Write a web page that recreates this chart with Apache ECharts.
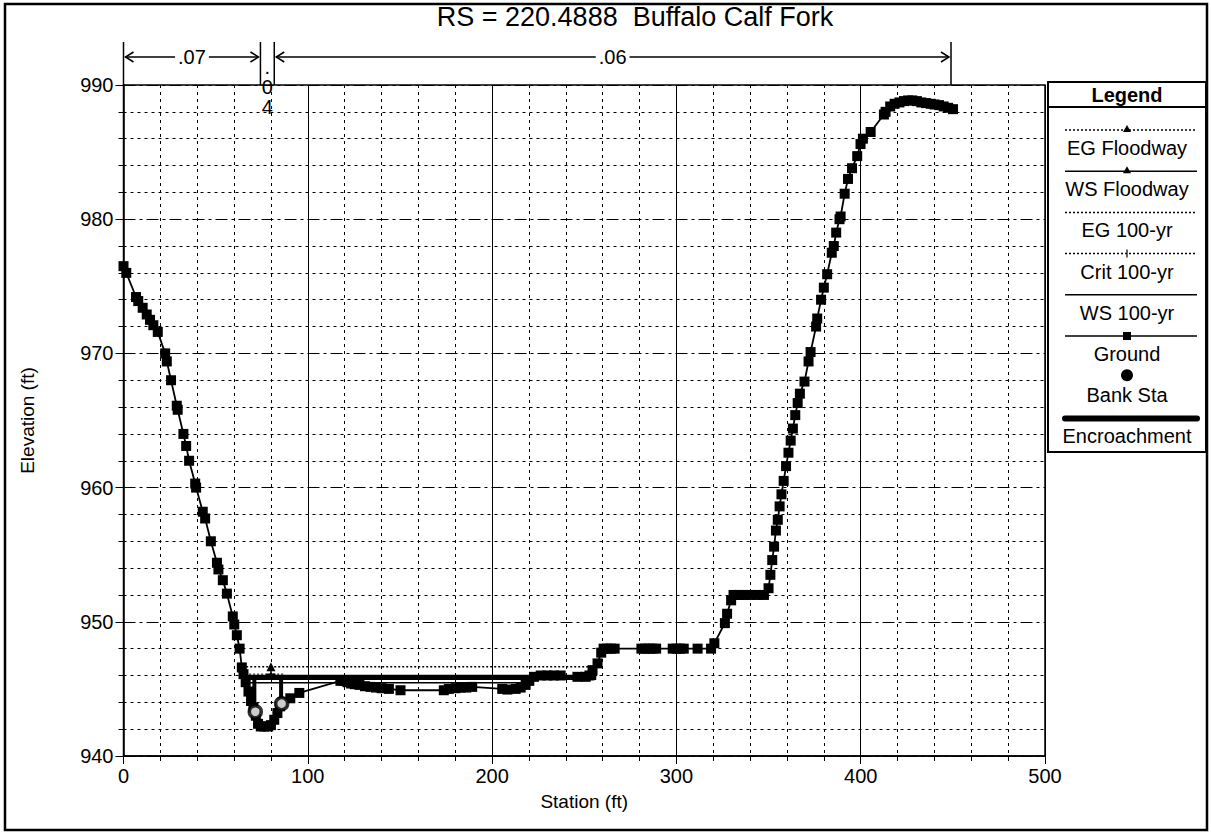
<!DOCTYPE html>
<html><head><meta charset="utf-8">
<script src="https://cdn.jsdelivr.net/npm/echarts@6/dist/echarts.min.js"></script>
<style>html,body{margin:0;padding:0;background:#fff}#c{width:1211px;height:833px}</style>
</head><body><div id="c"></div>
<script>
// ---------------- data ----------------
const chartTitle = 'RS = 220.4888  Buffalo Calf Fork';
const xAxisName = 'Station (ft)';
const yAxisName = 'Elevation (ft)';
const xTicks = [0, 100, 200, 300, 400, 500];
const yTicks = [940, 950, 960, 970, 980, 990];

const groundSta = [0,1.5,6.8,8.0,10.4,12.6,14.4,16.2,18.6,22.6,23.5,25.8,28.9,29.4,32.5,34.0,35.6,38.9,39.4,43.0,44.3,47.4,50.7,51.5,53.9,56.1,59.3,60.1,61.5,63.0,64.2,65.1,66.3,67.8,69.2,70.5,71.8,73.0,74.5,76.5,78.5,80.0,81.8,83.5,85.0,86.2,90.5,95.4,117.7,119.5,121.5,123.5,125.5,128,131,134,137,140,144,150.3,173.8,176.5,180.2,183,186,189.2,205.5,208.3,212.8,215.5,218.2,220.2,222.7,226.4,230,233.5,237.2,246.3,250.8,252.8,254.5,257.2,259.2,260.5,262.5,264.5,266.5,281,283,285,287,289,298,300,302,304,311.5,318.8,320.6,326.3,327.5,329.7,331,333.5,336.5,340,344,347.5,350.0,351.0,352.0,353.0,354.0,355.0,356.0,357.0,358.2,359.5,360.8,362.0,363.2,364.5,365.8,367.0,369.5,371.7,372.8,375.8,376.4,378.5,380.0,381.8,384.3,385.4,386.7,388.5,389.1,391.3,393.1,395.3,398.1,399.9,401.2,405.4,412.6,413.5,416,418.4,421,423.5,425.7,428,430.5,432.9,435.5,438,440.1,442.5,445,447.4,450.1];
const groundElev = [976.5,976.0,974.2,973.9,973.4,972.9,972.5,972.1,971.6,970.0,969.4,968.0,966.1,965.8,964.0,963.1,962.0,960.3,960.0,958.2,957.7,956.0,954.4,953.9,953.1,952.1,950.4,949.8,949.0,948.0,946.6,946.1,945.5,944.8,944.1,943.6,943.0,942.4,942.2,942.2,942.2,942.3,942.7,943.2,943.7,944.0,944.3,944.7,945.6,945.6,945.5,945.4,945.35,945.3,945.2,945.15,945.1,945.05,945.0,944.9,944.9,945.0,945.05,945.1,945.1,945.15,945.0,944.95,945.0,945.1,945.3,945.6,945.9,946.0,946.0,946.0,946.0,945.9,945.9,946.0,946.4,946.9,947.7,948.0,948.0,948.0,948.0,948,948,948,948,948,948,948,948,948,948,948,948.4,949.9,950.6,951.6,952,952,952,952,952,952,952.5,953.5,954.6,955.6,956.8,957.6,958.6,959.5,960.5,961.6,962.6,963.5,964.4,965.4,966.3,967.0,967.9,969.4,970.1,972.0,972.6,974.0,974.9,975.9,977.5,978.0,979.0,980.0,980.2,981.9,983.0,983.8,984.7,985.6,986.0,986.5,987.8,988.0,988.4,988.6,988.7,988.8,988.85,988.85,988.8,988.7,988.65,988.6,988.55,988.5,988.4,988.3,988.2];

const bankSta = [71.5, 85.8];
const bankElev = [943.3, 943.9];

const egFloodwaySta = [64.4, 80, 257.9];
const egFloodwayElev = [946.65, 946.65, 946.65];
const wsFloodwaySta = [65.0, 80, 257.0];
const wsFloodwayElev = [946.0, 946.0, 946.0];
const eg100Sta = [65.6, 216.5];
const eg100Elev = [945.75, 945.75];
const crit100Sta = [66.0, 80, 87.0];
const crit100Elev = [946.1, 946.1, 946.1];
const ws100Sta = [65.9, 215.8];
const ws100Elev = [945.45, 945.45];
const encrBandSta = [67.0, 256.5];
const encrBandElev = [945.85, 945.85];
const encrLeftSta = [71.0, 71.0];
const encrLeftElev = [943.2, 945.85];
const encrRightSta = [85.5, 85.5];
const encrRightElev = [943.8, 945.85];

// Manning's n regions
const nBreakSta = [0, 74.3, 81.8, 449];
const nValues = ['.07', '.04', '.06'];

const legendNames = ['EG Floodway','WS Floodway','EG 100-yr','Crit 100-yr','WS 100-yr','Ground','Bank Sta','Encroachment'];
// --------------------------------------

const FONT = "'Liberation Sans', Arial, sans-serif";
const zip = (a, b) => a.map((v, i) => [v, b[i]]);
const withMid = (sta, elev, sym, size) => sta.map((s, i) => (i === 1 ? {value: [s, elev[i]], symbol: sym, symbolSize: size} : {value: [s, elev[i]], symbol: 'none'}));
const plusPath = 'path://M0,5L10,5M5,0L5,10';

const chart = echarts.init(document.getElementById('c'), null, {renderer: 'svg'});

const axisCommon = {
  axisLine: {show: true, lineStyle: {color: '#000', width: 1.5}},
  axisLabel: {color: '#000', fontSize: 20, fontFamily: FONT, margin: 10},
  nameTextStyle: {color: '#000', fontSize: 19, fontFamily: FONT},
  nameLocation: 'middle',
  minorTick: {show: true, splitNumber: 5, length: 5, lineStyle: {color: '#000'}},
  axisTick: {show: true, length: 8, lineStyle: {color: '#000'}},
  minorSplitLine: {show: true, lineStyle: {color: '#000', width: 1, type: [3, 4]}}
};

const option = {
  animation: false,
  backgroundColor: '#fff',
  grid: {left: 123.5, right: 166, top: 85, bottom: 77, show: true, borderColor: '#000', borderWidth: 1.5, containLabel: false},
  xAxis: Object.assign({}, axisCommon, {
    type: 'value', min: xTicks[0], max: xTicks[xTicks.length - 1], interval: 100,
    name: xAxisName, nameGap: 36,
    splitLine: {show: true, lineStyle: {color: '#000', width: 1, type: 'solid'}}
  }),
  yAxis: Object.assign({}, axisCommon, {
    type: 'value', min: yTicks[0], max: yTicks[yTicks.length - 1], interval: 10,
    name: yAxisName, nameGap: 87,
    splitLine: {show: true, lineStyle: {color: '#000', width: 1, type: [12, 4, 3, 4]}}
  }),
  series: [
    {name: 'EG Floodway', type: 'line', data: withMid(egFloodwaySta, egFloodwayElev, 'triangle', 9), symbol: 'none', showSymbol: true,
      lineStyle: {color: '#000', width: 1.5, type: [2, 2]}, itemStyle: {color: '#000'}, z: 3},
    {name: 'WS Floodway', type: 'line', data: withMid(wsFloodwaySta, wsFloodwayElev, 'triangle', 8), symbol: 'none', showSymbol: true,
      lineStyle: {color: '#000', width: 1.5}, itemStyle: {color: '#000'}, z: 3},
    {name: 'EG 100-yr', type: 'line', data: zip(eg100Sta, eg100Elev), symbol: 'none',
      lineStyle: {color: '#000', width: 1.5, type: [2, 2]}, z: 3},
    {name: 'Crit 100-yr', type: 'line', data: withMid(crit100Sta, crit100Elev, plusPath, 9), symbol: 'none', showSymbol: true,
      lineStyle: {color: '#000', width: 1, type: [2, 2]}, itemStyle: {color: '#000', borderColor: '#000', borderWidth: 1.5}, z: 3},
    {name: 'WS 100-yr', type: 'line', data: zip(ws100Sta, ws100Elev), symbol: 'none',
      lineStyle: {color: '#000', width: 1.5}, z: 3},
    {name: 'Encroachment', type: 'line', data: zip(encrBandSta, encrBandElev), symbol: 'none',
      lineStyle: {color: '#000', width: 5}, z: 4},
    {name: 'Encroachment', type: 'line', data: zip(encrLeftSta, encrLeftElev), symbol: 'none',
      lineStyle: {color: '#000', width: 4}, z: 4},
    {name: 'Encroachment', type: 'line', data: zip(encrRightSta, encrRightElev), symbol: 'none',
      lineStyle: {color: '#000', width: 4}, z: 4},
    {name: 'Ground', type: 'line', data: zip(groundSta, groundElev), symbol: 'rect', symbolSize: 10, showAllSymbol: true,
      lineStyle: {color: '#000', width: 1.8}, itemStyle: {color: '#000'}, z: 5},
    {name: 'Bank Sta', type: 'scatter', data: zip(bankSta, bankElev), symbol: 'circle', symbolSize: 12,
      itemStyle: {color: '#fff', borderColor: '#000', borderWidth: 3.5}, z: 6}
  ]
};
chart.setOption(option);

// --------- graphics: frame, title, n-values, legend ---------
const g = [];
const stroke = {stroke: '#000', lineWidth: 1.5};
g.push({type: 'rect', shape: {x: 5, y: 4, width: 1202, height: 826}, style: {fill: 'none', stroke: '#000', lineWidth: 2.5}, silent: true});
g.push({type: 'text', x: 635, y: 17, style: {text: chartTitle, font: '27px ' + FONT, fill: '#000', textAlign: 'center', textVerticalAlign: 'middle'}});

const ctx = document.createElement('canvas').getContext('2d');
ctx.font = '20px ' + FONT;
const topY = chart.convertToPixel({gridIndex: 0}, [0, 990])[1];
const arrowY = 57;
const nx = nBreakSta.map(s => chart.convertToPixel({gridIndex: 0}, [s, 990])[0]);
nx.forEach(x => g.push({type: 'line', shape: {x1: x, y1: 42, x2: x, y2: topY}, style: stroke}));
nValues.forEach((v, i) => {
  const x1 = nx[i], x2 = nx[i + 1];
  const cx = (x1 + x2) / 2;
  const w = ctx.measureText(v).width;
  if (x2 - x1 < w + 30) {
    g.push({type: 'text', x: cx, y: 57, style: {text: v.split('').join('\n'), font: '20px ' + FONT, lineHeight: 20, fill: '#000', textAlign: 'center', textVerticalAlign: 'top'}});
    return;
  }
  g.push({type: 'text', x: cx, y: arrowY, style: {text: v, font: '20px ' + FONT, fill: '#000', textAlign: 'center', textVerticalAlign: 'middle'}});
  g.push({type: 'line', shape: {x1: x1 + 2, y1: arrowY, x2: cx - w / 2 - 3, y2: arrowY}, style: stroke});
  g.push({type: 'line', shape: {x1: cx + w / 2 + 3, y1: arrowY, x2: x2 - 2, y2: arrowY}, style: stroke});
  g.push({type: 'polyline', shape: {points: [[x1 + 10, arrowY - 5], [x1 + 2, arrowY], [x1 + 10, arrowY + 5]]}, style: Object.assign({fill: 'none'}, stroke)});
  g.push({type: 'polyline', shape: {points: [[x2 - 10, arrowY - 5], [x2 - 2, arrowY], [x2 - 10, arrowY + 5]]}, style: Object.assign({fill: 'none'}, stroke)});
});

// legend box
const LX = 1048, LW = 158, LT = 82, LB = 452;
g.push({type: 'rect', shape: {x: LX, y: LT, width: LW, height: LB - LT}, style: {fill: '#fff', stroke: '#000', lineWidth: 2}});
g.push({type: 'line', shape: {x1: LX, y1: 107, x2: LX + LW, y2: 107}, style: {stroke: '#000', lineWidth: 2}});
g.push({type: 'text', x: LX + LW / 2, y: 95, style: {text: 'Legend', font: 'bold 20px ' + FONT, fill: '#000', textAlign: 'center', textVerticalAlign: 'middle'}});
const lcx = LX + LW / 2, lx1 = 1065, lx2 = 1197;
const legendStyle = {
  'EG Floodway': {dash: [2, 2], mark: 'tri'},
  'WS Floodway': {dash: null, mark: 'tri'},
  'EG 100-yr': {dash: [2, 2]},
  'Crit 100-yr': {dash: [2, 2], mark: 'plus'},
  'WS 100-yr': {dash: null},
  'Ground': {dash: null, mark: 'sq'},
  'Bank Sta': {noLine: true, mark: 'dot'},
  'Encroachment': {dash: null, width: 6}
};
legendNames.forEach((name, i) => {
  const ly = 130 + i * 41.2;
  const st = legendStyle[name];
  if (!st.noLine) {
    g.push({type: 'line', shape: {x1: lx1, y1: ly, x2: lx2, y2: ly}, style: {stroke: '#000', lineWidth: st.width || 1.5, lineDash: st.dash || null, lineCap: st.width ? 'round' : 'butt'}});
  }
  if (st.mark === 'tri') g.push({type: 'polygon', shape: {points: [[lcx, ly - 5], [lcx - 4, ly + 2], [lcx + 4, ly + 2]]}, style: {fill: '#000'}});
  if (st.mark === 'sq') g.push({type: 'rect', shape: {x: lcx - 4, y: ly - 4, width: 8, height: 8}, style: {fill: '#000'}});
  if (st.mark === 'plus') g.push({type: 'line', shape: {x1: lcx, y1: ly - 4, x2: lcx, y2: ly + 4}, style: {stroke: '#000', lineWidth: 1.2}});
  if (st.mark === 'dot') g.push({type: 'circle', shape: {cx: lcx, cy: ly - 2, r: 6}, style: {fill: '#000'}});
  g.push({type: 'text', x: lcx, y: ly + 18, style: {text: name, font: '20px ' + FONT, fill: '#000', textAlign: 'center', textVerticalAlign: 'middle'}});
});

chart.setOption({graphic: g});
</script>
</body></html>
